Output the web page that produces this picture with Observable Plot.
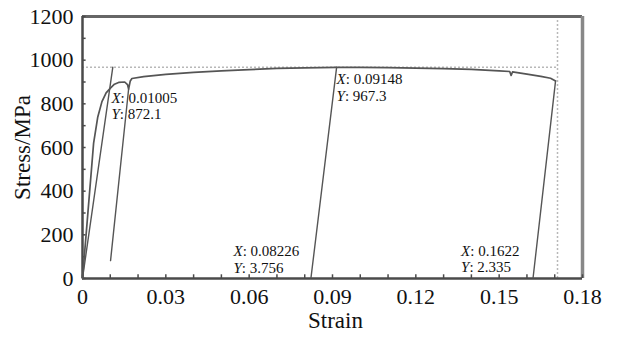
<!DOCTYPE html>
<html>
<head>
<meta charset="utf-8">
<script src="https://cdn.jsdelivr.net/npm/d3@7"></script>
<script src="https://cdn.jsdelivr.net/npm/@observablehq/plot@0.6"></script>
<style>
  html, body { margin: 0; padding: 0; background: #fff; }
  #chart svg { display: block; }
</style>
</head>
<body>
<div id="chart"></div>
<script>
// ---- Data ----
// Main stress-strain curve
const mainStrain = [0, 0.002, 0.004, 0.0055, 0.007, 0.0085, 0.01005, 0.0115, 0.013, 0.0152, 0.0162, 0.0166, 0.0172, 0.0178, 0.022, 0.03, 0.04, 0.05, 0.06, 0.07, 0.08, 0.09148, 0.10, 0.11, 0.12, 0.13, 0.14, 0.15, 0.1538, 0.1543, 0.1548, 0.16, 0.165, 0.1685, 0.1703];
const mainStress = [0, 310, 620, 740, 810, 850, 872.1, 890, 898, 900, 888, 868, 905, 916, 925, 935, 944, 951, 957, 962, 965, 967.3, 967, 966, 964, 961, 958, 951, 948, 930, 946, 936, 926, 917, 905];

// Straight unloading / reloading segments (start, end)
const segStrain = [[0, 0.0109], [0.0101, 0.0166], [0.08226, 0.09148], [0.1622, 0.1703]];
const segStress = [[0, 967.3], [82, 868], [3.756, 967.3], [2.335, 905]];

// Reference (dotted) lines
const refStress = [967.3];
const refStrain = [0.171];

// Data-cursor annotations
const annStrain = [0.01005, 0.09148, 0.08226, 0.1622];
const annStress = [872.1, 967.3, 3.756, 2.335];
const annXText = ["0.01005", "0.09148", "0.08226", "0.1622"];
const annYText = ["872.1", "967.3", "3.756", "2.335"];

// Axis ticks
const xTickLabels = [0, 0.03, 0.06, 0.09, 0.12, 0.15, 0.18];
const yTickLabels = [0, 200, 400, 600, 800, 1000, 1200];
const xMinor = [0, 0.01, 0.02, 0.03, 0.04, 0.05, 0.06, 0.07, 0.08, 0.09, 0.10, 0.11, 0.12, 0.13, 0.14, 0.15, 0.16, 0.17, 0.18];
const yMinor = [0, 100, 200, 300, 400, 500, 600, 700, 800, 900, 1000, 1100, 1200];

const xLabel = "Strain";
const yLabel = "Stress/MPa";

// ---- Build tables ----
const main = mainStrain.map((s, i) => ({strain: s, stress: mainStress[i]}));
const segs = [];
segStrain.forEach((pair, k) => {
  pair.forEach((s, j) => segs.push({seg: k, strain: s, stress: segStress[k][j]}));
});
const ann = annStrain.map((s, i) => ({i, strain: s, stress: annStress[i], label: "X: " + annXText[i] + "\nY: " + annYText[i]}));

const curveColor = "#555";
const serif = "'Liberation Serif', 'Times New Roman', serif";

function annotation(i, dx, dy) {
  const d = ann.filter(a => a.i === i);
  return Plot.text(d, {
    x: "strain", y: "stress", text: "label",
    textAnchor: "start", lineAnchor: "top", lineHeight: 1.11,
    fontSize: 15, fill: "#111", dx, dy
  });
}

const chart = Plot.plot({
  width: 619,
  height: 343,
  marginLeft: 82,
  marginRight: 37,
  marginTop: 16,
  marginBottom: 65,
  x: {domain: [0, 0.18]},
  y: {domain: [0, 1200]},
  style: {fontFamily: serif, fontSize: "22px", background: "#fff", color: "#111"},
  marks: [
    // dotted reference lines
    Plot.ruleY(refStress, {x1: 0, x2: refStrain[0], stroke: "#b8b8b8", strokeWidth: 1.5, strokeDasharray: "2,2"}),
    Plot.ruleX(refStrain, {y1: 0, y2: 1200, stroke: "#b8b8b8", strokeWidth: 1.5, strokeDasharray: "2,2"}),
    // frame
    Plot.ruleY([1200], {x1: 0, x2: 0.18, stroke: "#666", strokeWidth: 3}),
    Plot.ruleX([0.18], {y1: 0, y2: 1200, stroke: "#888", strokeWidth: 3.5}),
    Plot.ruleX([0], {y1: 0, y2: 1200, stroke: "#4a4a4a", strokeWidth: 2.5}),
    Plot.ruleY([0], {x1: 0, x2: 0.18, stroke: "#4a4a4a", strokeWidth: 2.5}),
    // inward minor ticks
    Plot.ruleX(xMinor, {y1: 0, y2: 17, stroke: "#4a4a4a", strokeWidth: 1.5}),
    Plot.ruleY(yMinor, {x1: 0, x2: 0.0013, stroke: "#4a4a4a", strokeWidth: 1.5}),
    // curves
    Plot.line(segs, {x: "strain", y: "stress", z: "seg", stroke: curveColor, strokeWidth: 1.4}),
    Plot.line(main, {x: "strain", y: "stress", stroke: curveColor, strokeWidth: 1.7, curve: "linear"}),
    // axes labels
    Plot.axisX(xTickLabels, {tickSize: 0, tickPadding: 10, tickFormat: d => String(d), label: null, fontSize: 22, fill: "#111"}),
    Plot.axisY(yTickLabels, {tickSize: 0, tickPadding: 9, tickFormat: d => String(d), label: null, fontSize: 22, fill: "#111"}),
    Plot.text([xLabel], {frameAnchor: "bottom", textAnchor: "middle", lineAnchor: "bottom", dy: 49, dx: 3, fontSize: 23, fill: "#111"}),
    Plot.text([yLabel], {frameAnchor: "left", textAnchor: "middle", lineAnchor: "middle", rotate: -90, dx: -60, fontSize: 23, fill: "#111"}),
    // annotations
    annotation(0, 1, 2.9),
    annotation(1, 0, 5),
    annotation(2, -77.5, -33.3),
    annotation(3, -72, -34)
  ]
});

// italicise the "X" / "Y" variable names of the data-cursor labels
d3.select(chart).selectAll("text tspan, text").each(function () {
  const el = this;
  if (el.children && el.children.length) return;
  const t = el.textContent;
  const m = /^([XY])(: .*)$/.exec(t);
  if (!m) return;
  const sel = d3.select(el);
  sel.text(null);
  sel.append("tspan").attr("font-style", "italic").text(m[1]);
  sel.append("tspan").text(m[2]);
});

document.getElementById("chart").appendChild(chart);
</script>
</body>
</html>
